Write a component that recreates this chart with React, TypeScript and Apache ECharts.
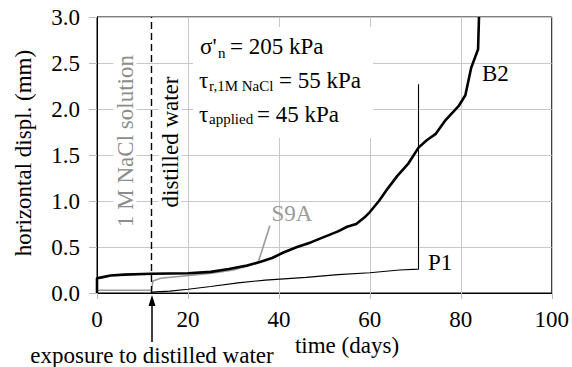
import React, { useEffect, useRef } from "react";
import * as echarts from "echarts";

// ---- data ----
const xTicks = [0, 20, 40, 60, 80, 100];
const yTicks = [0, 0.5, 1.0, 1.5, 2.0, 2.5, 3.0];

const b2Data: [number, number][] = [
  [0, 0], [0, 0.16], [1, 0.17], [3, 0.19], [6, 0.2], [12, 0.21], [20, 0.215],
  [25, 0.23], [29, 0.26], [33, 0.3], [36, 0.34], [38.5, 0.38], [41, 0.44],
  [44, 0.5], [47, 0.55], [50, 0.61], [53, 0.67], [55, 0.72], [57, 0.75],
  [59, 0.83], [60, 0.88], [62, 1.0], [64, 1.14], [66, 1.27], [68.5, 1.41],
  [70.7, 1.58], [72.5, 1.66], [74.5, 1.73], [76.5, 1.87], [79.5, 2.03],
  [81, 2.15], [82.3, 2.45], [83.8, 2.65], [84, 3.0],
];

const p1Data: [number, number][] = [
  [12, 0.01], [16, 0.02], [20, 0.04], [25, 0.07], [31, 0.11], [37, 0.14],
  [46, 0.17], [53, 0.2], [60, 0.22], [66.5, 0.25], [70.7, 0.26], [70.7, 2.27],
];

const s9aData: [number, number][] = [
  [0, 0.03], [12, 0.03], [12.3, 0.13], [14, 0.16], [18, 0.18], [22, 0.2],
  [26, 0.22], [30, 0.25], [33, 0.29], [35.5, 0.33],
];

const s9aLeader: [number, number][] = [[35.5, 0.34], [38, 0.73]];
const exposureDay = 12;

const FAMILY = "Liberation Serif";

export default function App() {
  const ref = useRef<HTMLDivElement>(null);

  useEffect(() => {
    if (!ref.current) return;
    const chart = echarts.init(ref.current, undefined, { renderer: "svg" });

    const txt = (text: string, x: number, y: number, opts: any = {}) => ({
      type: "text",
      x,
      y,
      z: opts.z ?? 20,
      rotation: opts.rotation ?? 0,
      style: {
        text,
        fill: opts.fill ?? "#000",
        fontSize: opts.size ?? 23,
        fontFamily: FAMILY,
        align: opts.align ?? "left",
        verticalAlign: "middle",
        backgroundColor: opts.bg,
        padding: opts.padding,
      },
    });

    chart.setOption({
      animation: false,
      backgroundColor: "#fff",
      grid: {
        left: 97,
        right: 19,
        top: 17,
        bottom: 74,
        show: true,
        borderColor: "#000",
        borderWidth: 1,
        containLabel: false,
      },
      xAxis: {
        type: "value",
        min: 0,
        max: 100,
        interval: 20,
        axisLine: { show: true, lineStyle: { color: "#000", width: 1 } },
        axisTick: { show: true, length: 6, lineStyle: { color: "#bbb" } },
        splitLine: { show: true, lineStyle: { color: "#c8c8c8", width: 1 } },
        axisLabel: {
          color: "#000",
          fontSize: 23,
          fontFamily: FAMILY,
          margin: 15,
          formatter: (v: number) => (xTicks.includes(v) ? String(v) : ""),
        },
      },
      yAxis: {
        type: "value",
        min: 0,
        max: 3,
        interval: 0.5,
        axisLine: { show: true, lineStyle: { color: "#000", width: 1 } },
        axisTick: { show: true, length: 8, lineStyle: { color: "#bbb" } },
        splitLine: { show: true, lineStyle: { color: "#c8c8c8", width: 1 } },
        axisLabel: {
          color: "#000",
          fontSize: 23,
          fontFamily: FAMILY,
          margin: 17,
          formatter: (v: number) =>
            yTicks.some((t) => Math.abs(t - v) < 1e-9) ? v.toFixed(1) : "",
        },
      },
      series: [
        {
          name: "S9A",
          type: "line",
          data: s9aData,
          symbol: "none",
          lineStyle: { color: "#9a9a9a", width: 1.6 },
          z: 3,
        },
        {
          name: "S9A leader",
          type: "line",
          data: s9aLeader,
          symbol: "none",
          lineStyle: { color: "#9a9a9a", width: 1.6 },
          z: 3,
        },
        {
          name: "P1",
          type: "line",
          data: p1Data,
          symbol: "none",
          lineStyle: { color: "#000", width: 1.1 },
          z: 4,
        },
        {
          name: "B2",
          type: "line",
          data: b2Data,
          symbol: "none",
          clip: true,
          lineStyle: { color: "#000", width: 2.6 },
          z: 5,
          markLine: {
            silent: true,
            symbol: "none",
            label: { show: false },
            lineStyle: { color: "#000", width: 1.4, type: [7, 4] },
            data: [{ xAxis: exposureDay }],
          },
        },
      ],
      graphic: [
        {
          type: "rect",
          z: 1,
          shape: { x: 193, y: 27, width: 180, height: 111 },
          style: { fill: "#fff" },
        },
        txt("σ'", 200, 46),
        txt("n", 218, 53, { size: 15 }),
        txt("= 205 kPa", 230, 46),
        txt("τ", 199, 80),
        txt("r,1M NaCl", 209, 86, { size: 15 }),
        txt("= 55 kPa", 279, 80),
        txt("τ", 199, 114),
        txt("applied", 209, 119, { size: 15 }),
        txt("= 45 kPa", 257, 114),
        txt("1 M NaCl solution", 125, 141, {
          rotation: Math.PI / 2,
          align: "center",
          fill: "#8c8c8c",
          bg: "#fff",
          padding: [0, 2],
          z: 1,
        }),
        txt("distilled water", 170, 142, {
          rotation: Math.PI / 2,
          align: "center",
          bg: "#fff",
          padding: [0, 2],
          z: 1,
        }),
        txt("S9A", 292, 213, { align: "center", fill: "#9a9a9a" }),
        txt("B2", 482, 73),
        txt("P1", 428, 262),
        txt("horizontal displ. (mm)", 23, 153, {
          rotation: Math.PI / 2,
          align: "center",
        }),
        txt("time (days)", 347, 345, { align: "center" }),
        txt("exposure to distilled water", 152, 355, { align: "center" }),
        {
          type: "line",
          z: 20,
          shape: { x1: 152, y1: 342, x2: 152, y2: 303 },
          style: { stroke: "#000", lineWidth: 1.5 },
        },
        {
          type: "polygon",
          z: 20,
          shape: { points: [[152, 295], [148.5, 306], [155.5, 306]] },
          style: { fill: "#000" },
        },
      ],
    });

    return () => chart.dispose();
  }, []);

  return (
    <div
      ref={ref}
      style={{ position: "fixed", left: 0, top: 0, width: 572, height: 367 }}
    />
  );
}
